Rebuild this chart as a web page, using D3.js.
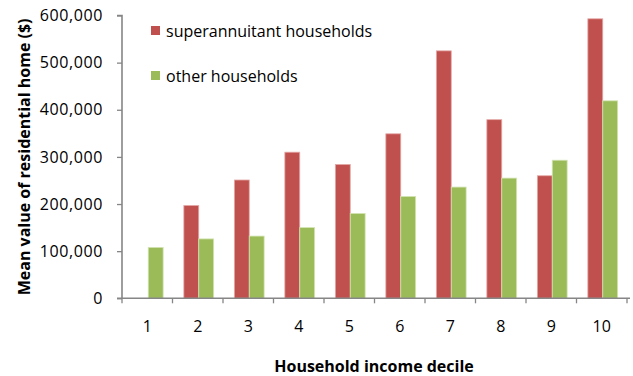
<!DOCTYPE html>
<html>
<head>
<meta charset="utf-8">
<script src="https://cdn.jsdelivr.net/npm/d3@7"></script>
<style>
  html, body { margin: 0; padding: 0; background: #fff; }
  svg { display: block; }
  text { font-family: "Open Sans", Lato, "DejaVu Sans", sans-serif; fill: #000; }
</style>
</head>
<body>
<svg id="chart" width="633" height="376"></svg>
<script>
// Household income deciles
const deciles = ["1", "2", "3", "4", "5", "6", "7", "8", "9", "10"];
// Mean value of residential home ($) by decile
const superannuitant = [0, 197000, 251000, 310000, 284000, 349000, 525000, 379000, 260000, 593000];
const other = [108000, 126000, 132000, 150000, 180000, 216000, 236000, 255000, 293000, 419000];
const seriesNames = ["superannuitant households", "other households"];
const seriesColors = ["#C0504D", "#9BBB59"];
const yTicks = [0, 100000, 200000, 300000, 400000, 500000, 600000];

const svg = d3.select("#chart");
const W = 633;
const x0 = 122, x1 = W - 3;
const yBottom = 298.3, yTop = 15.5;
const FONT = 16;

const x = d3.scaleBand().domain(deciles).range([x0, x0 + 505]).paddingInner(0).paddingOuter(0);
const y = d3.scaleLinear().domain([0, 600000]).range([yBottom, yTop]);

// Each bar takes this share of a band; the pair sits centred in it
const barW = x.bandwidth() * 0.295;
const data = deciles.map((d, i) => ({ d, vals: [superannuitant[i], other[i]] }));

const groups = svg.append("g").selectAll("g").data(data).join("g")
  .attr("transform", d => `translate(${x(d.d) + x.bandwidth() / 2 + 1},0)`);

groups.selectAll("rect")
  .data(d => d.vals.map((v, k) => ({ v, k })).filter(o => o.v > 0))
  .join("rect")
  .attr("x", o => (o.k === 0 ? -barW : 0))
  .attr("y", o => y(o.v))
  .attr("width", barW)
  .attr("height", o => y(0) - y(o.v))
  .attr("fill", o => seriesColors[o.k])
  .attr("stroke", o => o.k === 0 ? "#E4A9A7" : "#D3E4B3")
  .attr("stroke-width", 0.8);

// Y axis
const yAxis = d3.axisLeft(y).tickValues(yTicks).tickSize(5).tickPadding(14)
  .tickFormat(d3.format(","));
const gy = svg.append("g").attr("transform", `translate(${x0},0)`).call(yAxis);
gy.select(".domain").attr("stroke", "#868686").attr("stroke-width", 1.6)
  .attr("d", `M-5,${yTop}H0V${yBottom}`);
gy.selectAll(".tick line").attr("stroke", "#868686").attr("stroke-width", 1.3);
gy.selectAll(".tick text").attr("font-size", FONT).attr("letter-spacing", 0.6)
  .attr("font-family", "'Open Sans', sans-serif").attr("fill", "#000");

// X axis
const xAxis = d3.axisBottom(x).tickSize(0).tickPadding(22);
const gx = svg.append("g").attr("transform", `translate(0,${yBottom})`).call(xAxis);
gx.select(".domain").attr("stroke", "#868686").attr("stroke-width", 1.6)
  .attr("d", `M${x0 - 5},0H${x1}`);
gx.selectAll(".tick text").attr("font-size", FONT).attr("font-family", "'Open Sans', sans-serif").attr("fill", "#000");
// Tick marks between deciles
const boundaries = deciles.map(d => x(d)).concat([x(deciles[deciles.length - 1]) + x.bandwidth()]);
gx.selectAll("line.sep").data(boundaries).join("line").attr("class", "sep")
  .attr("x1", d => d).attr("x2", d => d).attr("y1", 0).attr("y2", 5)
  .attr("stroke", "#868686").attr("stroke-width", 1.3);

// Axis titles
svg.append("text")
  .attr("transform", `translate(30,${(yTop + yBottom) / 2}) rotate(-90)`)
  .attr("text-anchor", "middle").attr("font-size", FONT).attr("font-weight", "bold")
  .text("Mean value of residential home ($)");
svg.append("text")
  .attr("x", 374).attr("y", 372)
  .attr("text-anchor", "middle").attr("font-size", FONT).attr("font-weight", "bold")
  .text("Household income decile");

// Legend
const legend = svg.append("g").attr("transform", "translate(151,26)");
seriesNames.forEach((name, i) => {
  const g = legend.append("g").attr("transform", `translate(0,${i * 45})`);
  g.append("rect").attr("width", 9).attr("height", 9).attr("fill", seriesColors[i]);
  g.append("text").attr("x", 15).attr("y", 10.5).attr("font-size", FONT).text(name);
});
</script>
</body>
</html>
